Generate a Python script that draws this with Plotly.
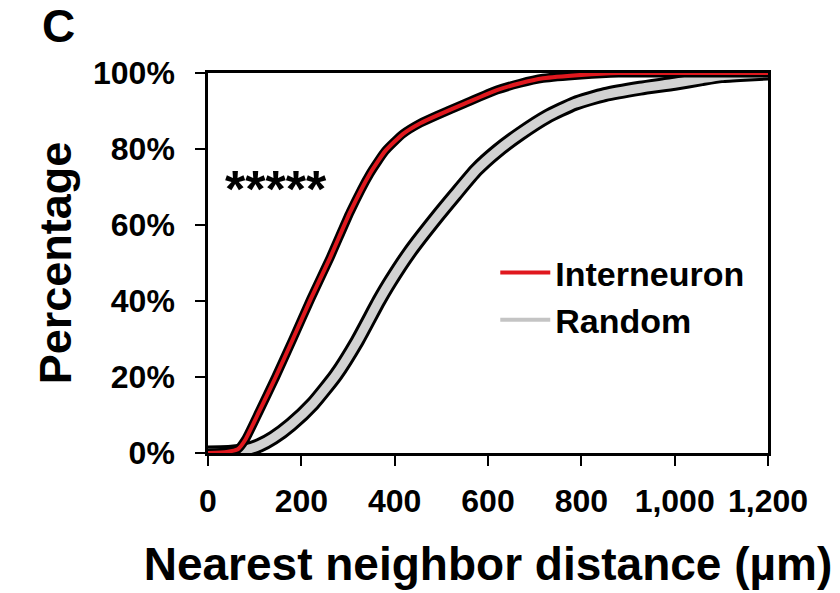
import plotly.graph_objects as go

# ---- data ----
inter_d = [0, 40, 64, 80, 110, 145, 182, 220, 262, 305, 347, 380, 418, 455, 490, 551, 619, 669, 718, 800, 880, 1000, 1200]
inter_p = [0, 0.3, 1, 3.5, 11, 20, 30, 40.5, 51.5, 63.5, 73.5, 79.5, 84, 86.8, 88.8, 92, 95.5, 97.3, 98.6, 99.5, 100, 100, 100]

random_d = [0, 50, 80, 110, 140, 178, 225, 274, 320, 366, 390, 433, 493, 530, 575, 620, 669, 726, 786, 850, 926, 1000, 1058, 1100, 1150, 1200]
random_p = [0, 0.2, 0.8, 2, 4, 7.5, 13, 20.5, 29.5, 40, 45, 53, 62.5, 68, 74.5, 79.5, 84, 88.5, 92, 94.3, 96, 97.3, 98.5, 99.3, 99.7, 100]

x_ticks = [0, 200, 400, 600, 800, 1000, 1200]
x_ticktext = ["0", "200", "400", "600", "800", "1,000", "1,200"]
y_ticks = [0, 20, 40, 60, 80, 100]
y_ticktext = ["0%", "20%", "40%", "60%", "80%", "100%"]

FONT = "Liberation Sans, Arial, Helvetica, sans-serif"
RED = "#e0181e"
GRAY = "#d2d2d2"

fig = go.Figure()

# Random band: black outline with grey core
fig.add_trace(go.Scatter(x=random_d, y=random_p, mode="lines", line=dict(color="black", width=15, shape="spline", smoothing=0.5),
                         showlegend=False, hoverinfo="skip"))
fig.add_trace(go.Scatter(x=random_d, y=random_p, mode="lines", line=dict(color=GRAY, width=9, shape="spline", smoothing=0.5),
                         showlegend=False, name="Random"))
# Interneuron band: black outline with red core
fig.add_trace(go.Scatter(x=inter_d, y=inter_p, mode="lines", line=dict(color="black", width=9, shape="spline", smoothing=0.5),
                         showlegend=False, hoverinfo="skip"))
fig.add_trace(go.Scatter(x=inter_d, y=inter_p, mode="lines", line=dict(color=RED, width=4, shape="spline", smoothing=0.5),
                         showlegend=False, name="Interneuron"))

# legend entries
fig.add_trace(go.Scatter(x=[None], y=[None], mode="lines", line=dict(color=RED, width=4), name="Interneuron"))
fig.add_trace(go.Scatter(x=[None], y=[None], mode="lines", line=dict(color="#c4c4c4", width=4), name="Random"))

axis_common = dict(
    showline=True, linecolor="black", linewidth=2.5, mirror=True,
    ticks="outside", ticklen=10, tickwidth=2, tickcolor="black",
    showgrid=False, zeroline=False,
    tickfont=dict(family=FONT, size=32, color="black", weight="bold"),
)

fig.update_layout(
    width=840, height=593,
    margin=dict(l=208, r=72, t=73, b=140),
    paper_bgcolor="white", plot_bgcolor="white",
    xaxis=dict(range=[0, 1200], tickvals=x_ticks, ticktext=x_ticktext,
               ticklabelstandoff=8,
               title=dict(text="Nearest neighbor distance (\u00b5m)", standoff=30,
                          font=dict(family=FONT, size=46, color="black", weight="bold")),
               **axis_common),
    yaxis=dict(range=[0, 100], tickvals=y_ticks, ticktext=y_ticktext,
               ticklabelstandoff=14,
               title=dict(text="Percentage", standoff=8,
                          font=dict(family=FONT, size=45, color="black", weight="bold")),
               **axis_common),
    legend=dict(x=0.513, y=0.55, xanchor="left", yanchor="top",
                font=dict(family=FONT, size=34, color="black", weight="bold"),
                bgcolor="rgba(0,0,0,0)", itemwidth=50, tracegroupgap=0),
    annotations=[
        dict(text="C", xref="paper", yref="paper", x=-0.3, y=1.125, xanchor="left", yanchor="middle",
             showarrow=False, font=dict(family=FONT, size=46, color="black", weight="bold")),
        dict(text="*****", xref="x", yref="y", x=146, y=69.5, xanchor="center", yanchor="middle",
             showarrow=False, font=dict(family=FONT, size=52, color="black", weight="bold")),
    ],
)

fig.write_html("out.html", config={"displayModeBar": False},
               post_script="document.body.style.margin='0';document.body.style.padding='0';")
